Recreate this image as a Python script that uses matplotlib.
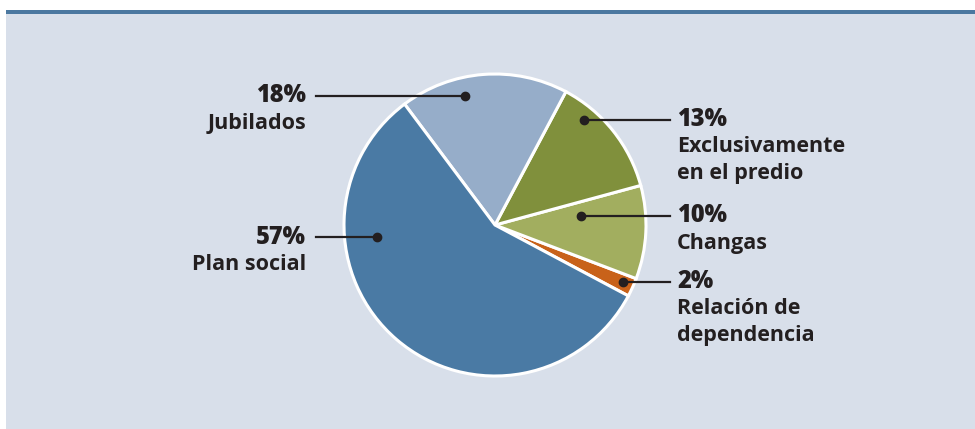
import matplotlib.pyplot as plt
from matplotlib.patches import Rectangle

plt.rcParams['font.family'] = ['Open Sans', 'DejaVu Sans']

# datos de la torta (orden antihorario desde la porción chica)
categorias = ['Relación de\ndependencia', 'Changas', 'Exclusivamente\nen el predio',
              'Jubilados', 'Plan social']
porcentajes = [2, 10, 13, 18, 57]
colores = ['#c8621a', '#a2ae5f', '#80903c', '#96adc9', '#4a7aa4']

# ubicación de las etiquetas: (x punto, y, lado)
etiquetas_pos = [(623, 282, 'der'), (581, 216, 'der'), (584, 120, 'der'),
                 (465, 96, 'izq'), (377, 237, 'izq')]

W, H = 975, 429
fig = plt.figure(figsize=(W / 100, H / 100), dpi=100, facecolor='white')
ax = fig.add_axes([0, 0, 1, 1])

# fondo y línea superior
ax.add_patch(Rectangle((6, 0), W - 6, H - 14, facecolor='#d8dfea', edgecolor='none', zorder=0))
ax.add_patch(Rectangle((6, H - 14), W - 6, 4, facecolor='#4b78a0', edgecolor='none', zorder=1))

ax.pie(porcentajes, colors=colores, startangle=-28, counterclock=True,
       center=(495, H - 225), radius=151, frame=True,
       wedgeprops=dict(edgecolor='white', linewidth=2.2))
ax.set_xlim(0, W)
ax.set_ylim(0, H)
ax.axis('off')

for cat, pct, (xp, yp, lado) in zip(categorias, porcentajes, etiquetas_pos):
    y = H - yp
    if lado == 'izq':
        ax.plot([316, xp], [y, y], color='#231f20', lw=1.6, zorder=5)
        xt, ha = 306, 'right'
    else:
        ax.plot([xp, 670], [y, y], color='#231f20', lw=1.6, zorder=5)
        xt, ha = 677, 'left'
    ax.plot(xp, y, 'o', color='#231f20', ms=6, zorder=6)
    ax.text(xt, y, f'{pct}%', ha=ha, va='center', fontsize=17, fontweight='heavy',
            color='#231f20')
    for i, linea in enumerate(cat.split('\n')):
        ax.text(xt, y - 27 * (i + 1), linea, ha=ha, va='center', fontsize=15.5,
                fontweight='bold', color='#231f20')

fig.savefig('out.png', dpi=100, facecolor='white')
